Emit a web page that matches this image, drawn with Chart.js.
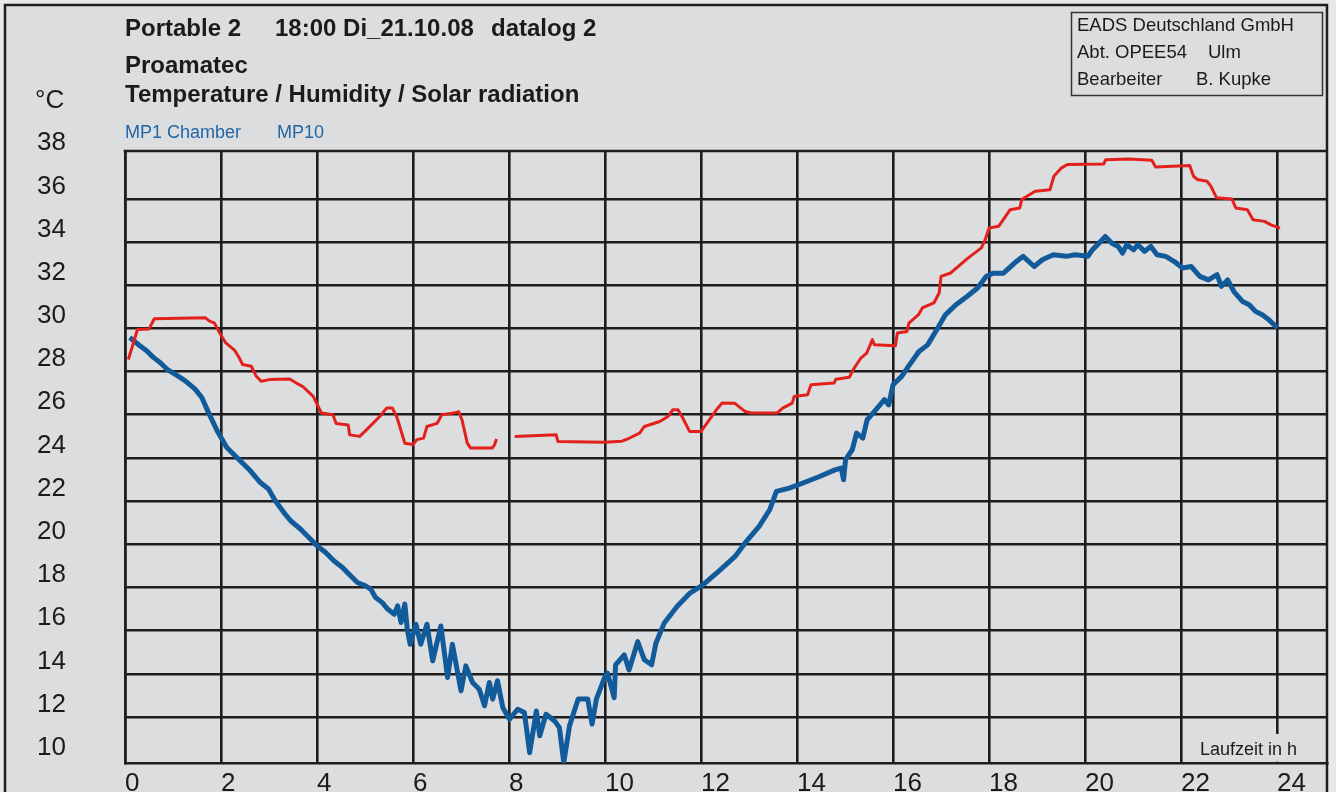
<!DOCTYPE html>
<html>
<head>
<meta charset="utf-8">
<script src="https://cdn.jsdelivr.net/npm/chart.js@4.4.1/dist/chart.umd.min.js"></script>
<style>
html, body { margin: 0; padding: 0; background: #e8e8e9; overflow: hidden; }
canvas { display: block; }
</style>
</head>
<body>
<canvas id="chart" width="1336" height="792"></canvas>
<script>
// tick labels ...........................................
const hourTicks = [0, 2, 4, 6, 8, 10, 12, 14, 16, 18, 20, 22, 24];
const tempTicks = [10, 12, 14, 16, 18, 20, 22, 24, 26, 28, 30, 32, 34, 36, 38];

// MP1 Chamber (red), null = logger gap
const redHours = [0.07, 0.26, 0.5, 0.61, 1.67, 1.76, 1.86, 1.97, 2.1, 2.28, 2.38, 2.45, 2.63, 2.73, 2.84, 3.01,
	3.43, 3.57, 3.71, 3.92, 4.06, 4.09, 4.33, 4.4, 4.65, 4.68, 4.89, 5.03, 5.24, 5.34, 5.45, 5.57, 5.66, 5.83,
	6.0, 6.08, 6.22, 6.29, 6.5, 6.6, 6.85, 6.95, 7.02, 7.13, 7.2, 7.65, 7.7, 7.74, 7.9, 8.12, 8.98, 9.02, 9.99,
	10.35, 10.47, 10.72, 10.82, 11.14, 11.31, 11.41, 11.52, 11.62, 11.76, 12.0, 12.12, 12.32, 12.44, 12.7, 12.92,
	13.05, 13.58, 13.7, 13.9, 13.94, 14.22, 14.29, 14.77, 14.81, 15.09, 15.17, 15.33, 15.45, 15.57, 15.61, 16.05,
	16.09, 16.29, 16.33, 16.53, 16.61, 16.85, 16.96, 17.0, 17.2, 17.36, 17.56, 17.84, 17.92, 18.0, 18.2, 18.44,
	18.64, 18.68, 18.96, 19.27, 19.35, 19.51, 19.63, 20.39, 20.43, 20.91, 21.39, 21.47, 22.18, 22.26, 22.34,
	22.54, 22.62, 22.74, 23.06, 23.14, 23.38, 23.5, 23.74, 23.86, 24.06];
const redTemps = [28.56, 29.95, 29.98, 30.45, 30.5, 30.34, 30.26, 29.8, 29.33, 29.0, 28.64, 28.33, 28.25, 27.8, 27.55, 27.63,
	27.66, 27.47, 27.3, 26.85, 26.23, 26.08, 26.0, 25.6, 25.53, 25.07, 25.0, 25.3, 25.77, 26.0, 26.31, 26.31, 25.92, 24.68,
	24.62, 24.85, 24.92, 25.46, 25.6, 26.0, 26.08, 26.15, 25.77, 24.69, 24.46, 24.46, 24.62, 24.88, null, 25.0, 25.08, 24.76, 24.73,
	24.78, 24.88, 25.15, 25.46, 25.69, 25.92, 26.23, 26.23, 25.85, 25.23, 25.23, 25.6, 26.23, 26.55, 26.54, 26.15,
	26.08, 26.08, 26.31, 26.54, 26.85, 26.93, 27.39, 27.47, 27.65, 27.74, 28.09, 28.63, 28.86, 29.48, 29.25, 29.2,
	29.79, 29.86, 30.25, 30.64, 30.95, 31.18, 31.64, 32.41, 32.57, 32.88, 33.26, 33.73, 34.11, 34.65, 34.73, 35.5,
	35.58, 35.97, 36.36, 36.43, 37.05, 37.44, 37.59, 37.62, 37.82, 37.85, 37.79, 37.48, 37.55, 37.05, 36.9,
	36.82, 36.59, 36.05, 36.0, 35.58, 35.5, 35.04, 34.96, 34.81, 34.65];

// MP10 (blue)
const blueHours = [0.1, 0.31, 0.45, 0.59, 0.73, 0.87, 1.04, 1.25, 1.46, 1.6, 1.74, 1.92, 2.12, 2.33, 2.58, 2.82, 2.99,
	3.13, 3.31, 3.45, 3.66, 3.83, 4.0, 4.18, 4.35, 4.53, 4.7, 4.84, 5.01, 5.12, 5.22, 5.36, 5.47, 5.61, 5.68, 5.75,
	5.83, 5.88, 5.94, 6.06, 6.16, 6.29, 6.41, 6.58, 6.72, 6.82, 7.0, 7.1, 7.24, 7.38, 7.49, 7.59, 7.66, 7.76, 7.87,
	8.01, 8.18, 8.32, 8.43, 8.57, 8.64, 8.77, 8.95, 9.05, 9.14, 9.26, 9.44, 9.64, 9.73, 9.82, 9.99, 10.05, 10.19,
	10.22, 10.4, 10.5, 10.68, 10.82, 10.97, 11.06, 11.23, 11.5, 11.77, 12.04, 12.4, 12.71, 12.94, 13.21, 13.43,
	13.57, 13.84, 14.11, 14.47, 14.79, 14.92, 14.97, 15.01, 15.15, 15.24, 15.37, 15.46, 15.64, 15.82, 15.91, 16.0,
	16.18, 16.32, 16.54, 16.72, 16.91, 17.09, 17.31, 17.54, 17.76, 17.94, 18.08, 18.3, 18.53, 18.71, 18.94, 19.11,
	19.34, 19.61, 19.79, 20.06, 20.15, 20.29, 20.42, 20.56, 20.69, 20.78, 20.87, 21.01, 21.1, 21.24, 21.37, 21.5,
	21.68, 21.86, 22.03, 22.21, 22.39, 22.57, 22.75, 22.84, 22.97, 23.1, 23.28, 23.42, 23.55, 23.69, 23.83, 24.01];
const blueTemps = [29.58, 29.2, 28.97, 28.66, 28.42, 28.12, 27.88, 27.58, 27.19, 26.8, 26.1, 25.26, 24.49, 24.02, 23.48, 22.86, 22.56,
	22.02, 21.47, 21.09, 20.7, 20.32, 19.93, 19.62, 19.24, 18.93, 18.54, 18.23, 18.08, 17.92, 17.54, 17.3, 17.0, 16.76, 17.15, 16.38,
	17.23, 16.07, 15.37, 16.3, 15.37, 16.3, 14.6, 16.22, 13.83, 15.37, 13.21, 14.37, 13.6, 13.29, 12.52, 13.6, 12.83, 13.68, 12.44,
	11.9, 12.36, 12.21, 10.35, 12.28, 11.13, 12.13, 11.82, 11.51, 9.89, 11.59, 12.83, 12.83, 11.67, 12.83, 13.83, 14.03, 12.9,
	14.42, 14.88, 14.18, 15.49, 14.65, 14.42, 15.42, 16.34, 17.12, 17.74, 18.12, 18.82, 19.44, 20.13, 20.83, 21.6,
	22.45, 22.6, 22.83, 23.14, 23.45, 23.53, 22.99, 23.92, 24.38, 25.15, 24.92, 25.77, 26.23, 26.7, 26.46, 27.39,
	27.78, 28.24, 28.93, 29.24, 29.94, 30.63, 31.1, 31.48, 31.87, 32.41, 32.56, 32.56, 33.03, 33.34, 32.87, 33.18,
	33.41, 33.34, 33.41, 33.34, 33.64, 33.95, 34.26, 33.95, 33.8, 33.49, 33.88, 33.64, 33.88, 33.57, 33.8, 33.41,
	33.34, 33.1, 32.8, 32.87, 32.41, 32.25, 32.49, 31.95, 32.25, 31.71, 31.25, 31.1, 30.79, 30.63, 30.4, 30.02];

const FONT = '"Liberation Sans", Arial, Helvetica, sans-serif';
const INK = '#1b1b1b';
const PAPER = '#dcdddf';
const GRID = '#1e1e1e';

const toPoints = (xs, ys) => xs.map((x, i) => ({ x: x, y: ys[i] }));

// paper, frame and all the header texts
const sheet = {
	id: 'sheet',
	beforeDraw(chart)
	{
		const c = chart.ctx;
		c.save();
		c.fillStyle = '#e8e8e9';
		c.fillRect(0, 0, chart.width, chart.height);
		c.fillStyle = PAPER;
		c.fillRect(5, 5, 1322, 800);
		c.restore();
	},
	afterDraw(chart)
	{
		const c = chart.ctx;
		const a = chart.chartArea;
		c.save();

		// unit label interrupts the 24 h line
		const x24 = chart.scales.x.getPixelForValue(24);
		c.fillStyle = PAPER;
		c.fillRect(x24 - 3, 734, 6, a.bottom - 734 - 1.2);
		c.fillStyle = INK;
		c.font = '18px ' + FONT;
		c.fillText('Laufzeit in h', 1200, 755);

		// top border of plot + outer frame
		c.strokeStyle = GRID;
		c.lineWidth = 2.6;
		c.beginPath();
		c.moveTo(a.left - 1.3, a.top);
		c.lineTo(a.right, a.top);
		c.stroke();
		c.lineWidth = 2.5;
		c.strokeRect(5, 5, 1322, 820);

		// header
		c.fillStyle = INK;
		c.font = 'bold 24px ' + FONT;
		c.fillText('Portable 2', 125, 36);
		c.fillText('18:00 Di_21.10.08', 275, 36);
		c.fillText('datalog 2', 491, 36);
		c.fillText('Proamatec', 125, 73);
		c.fillText('Temperature / Humidity / Solar radiation', 125, 102);
		c.font = '26px ' + FONT;
		c.fillText('\u00B0C', 35, 108);

		c.fillStyle = '#2266a6';
		c.font = '18px ' + FONT;
		c.fillText(chart.data.datasets[0].label, 125, 138);
		c.fillText(chart.data.datasets[1].label, 277, 138);

		// company box
		c.strokeStyle = '#333';
		c.lineWidth = 1.5;
		c.strokeRect(1071.5, 12.5, 251, 83);
		c.fillStyle = INK;
		c.font = '18.5px ' + FONT;
		c.fillText('EADS Deutschland GmbH', 1077, 31);
		c.fillText('Abt. OPEE54', 1077, 58);
		c.fillText('Ulm', 1208, 58);
		c.fillText('Bearbeiter', 1077, 85);
		c.fillText('B. Kupke', 1196, 85);
		c.restore();
	}
};

new Chart(document.getElementById('chart'),
{
	type: 'line',
	data:
	{
		datasets: [
			{
				label: 'MP1 Chamber',
				data: toPoints(redHours, redTemps),
				borderColor: '#e3211c',
				borderWidth: 3,
				spanGaps: false
			},
			{
				label: 'MP10',
				data: toPoints(blueHours, blueTemps),
				borderColor: '#125b9a',
				borderWidth: 5
			}
		]
	},
	options:
	{
		responsive: false,
		animation: false,
		devicePixelRatio: 1,
		layout: { padding: { top: 151, right: 9, left: 0, bottom: 0 } },
		elements: { point: { radius: 0 }, line: { tension: 0, borderJoinStyle: 'round' } },
		plugins: { legend: { display: false }, tooltip: { enabled: false } },
		scales:
		{
			x:
			{
				type: 'linear',
				min: 0,
				max: 25.04,
				afterBuildTicks: (s) => { s.ticks = hourTicks.map(v => ({ value: v })); },
				afterFit: (s) => { s.height = 29; s.paddingLeft = 0; s.paddingRight = 0; },
				grid: { color: GRID, lineWidth: 2.6, drawTicks: false },
				border: { display: true, color: GRID, width: 2.6 },
				ticks: { align: 'start', padding: 5, maxRotation: 0, autoSkip: false, color: INK, font: { family: FONT, size: 26 } }
			},
			y:
			{
				type: 'linear',
				min: 9.87,
				max: 38.22,
				afterBuildTicks: (s) => { s.ticks = tempTicks.map(v => ({ value: v })); },
				// labels sit far from the axis; keep their padding out of the layout
				afterFit: (s) => { s.width = 125; s.paddingTop = 0; s.paddingBottom = 0; },
				grid:
				{
					color: (ctx) => (ctx.tick && (ctx.tick.value === 10 || ctx.tick.value === 38)) ? 'rgba(0,0,0,0)' : GRID,
					lineWidth: 2.6,
					drawTicks: false
				},
				border: { display: true, color: GRID, width: 2.6 },
				ticks: { padding: 59, labelOffset: -12.5, color: INK, font: { family: FONT, size: 26 } }
			}
		}
	},
	plugins: [sheet]
});
</script>
</body>
</html>
